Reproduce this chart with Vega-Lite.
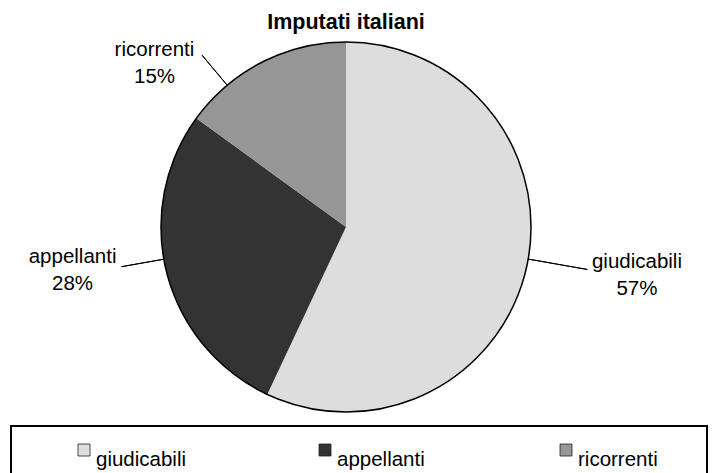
{
  "$schema": "https://vega.github.io/schema/vega-lite/v6.json",
  "background": "white",
  "padding": {"left": 10, "top": 11, "right": 0, "bottom": 0},
  "config": {"font": "Liberation Sans", "view": {"stroke": null}},
  "datasets": {
    "imputati": [
      {"category": "giudicabili", "share": 0.57},
      {"category": "appellanti", "share": 0.28},
      {"category": "ricorrenti", "share": 0.15}
    ]
  },
  "spacing": 5,
  "vconcat": [
    {
      "title": {"text": "Imputati italiani", "fontSize": 21.5, "fontWeight": "bold", "color": "black", "offset": 1, "frame": "group", "anchor": "middle"},
      "width": 670,
      "height": 386,
      "data": {"name": "imputati"},
      "layer": [
        {
          "mark": {"type": "arc", "outerRadius": 185},
          "encoding": {
            "theta": {"field": "share", "type": "quantitative", "stack": true},
            "order": {"field": "share", "sort": "descending"},
            "color": {"field": "category", "type": "nominal", "scale": {"domain": ["giudicabili", "appellanti", "ricorrenti"], "range": ["#DDDDDD", "#333333", "#969696"]}, "legend": null}
          }
        },
        {
          "mark": {"type": "arc", "outerRadius": 185, "filled": false, "stroke": "black", "strokeWidth": 1.5},
          "encoding": {"theta": {"aggregate": "sum", "field": "share", "type": "quantitative"}}
        },
        {
          "transform": [
            {"stack": "share", "groupby": [], "sort": [{"field": "share", "order": "descending"}], "as": ["s", "e"]},
            {"filter": {"field": "category", "equal": "giudicabili"}}
          ],
          "mark": {"type": "arc", "innerRadius": 185, "outerRadius": 245, "thetaOffset": 1.745, "theta2Offset": 1.745, "filled": false, "stroke": "black", "strokeWidth": 1},
          "encoding": {"theta": {"field": "s", "type": "quantitative", "stack": null}, "theta2": {"field": "s"}}
        },
        {
          "transform": [
            {"stack": "share", "groupby": [], "sort": [{"field": "share", "order": "descending"}], "as": ["s", "e"]},
            {"filter": {"field": "category", "equal": "appellanti"}}
          ],
          "mark": {"type": "arc", "innerRadius": 185, "outerRadius": 228, "thetaOffset": 0.956, "theta2Offset": 0.956, "filled": false, "stroke": "black", "strokeWidth": 1},
          "encoding": {"theta": {"field": "s", "type": "quantitative", "stack": null}, "theta2": {"field": "s"}}
        },
        {
          "transform": [
            {"stack": "share", "groupby": [], "sort": [{"field": "share", "order": "descending"}], "as": ["s", "e"]},
            {"filter": {"field": "category", "equal": "ricorrenti"}}
          ],
          "mark": {"type": "arc", "innerRadius": 185, "outerRadius": 224, "thetaOffset": 0.245, "theta2Offset": 0.245, "filled": false, "stroke": "black", "strokeWidth": 1},
          "encoding": {"theta": {"field": "s", "type": "quantitative", "stack": null}, "theta2": {"field": "s"}}
        },
        {
          "mark": {"type": "text", "radius": {"expr": "datum.category === 'giudicabili' ? 293 : 0"}, "dx": 5, "dy": -23, "align": "center", "baseline": "alphabetic", "fontSize": 20.5, "lineHeight": 27, "color": "black",
                   "text": {"expr": "datum.category === 'giudicabili' ? [datum.category, format(datum.share, '.0%')] : ''"}},
          "encoding": {
            "theta": {"field": "share", "type": "quantitative", "stack": true},
            "order": {"field": "share", "sort": "descending"},
            "detail": {"field": "category", "type": "nominal"}
          }
        },
        {
          "mark": {"type": "text", "radius": {"expr": "datum.category === 'appellanti' ? 273 : 0"}, "dx": -9, "dy": -32, "align": "center", "baseline": "alphabetic", "fontSize": 20.5, "lineHeight": 27, "color": "black",
                   "text": {"expr": "datum.category === 'appellanti' ? [datum.category, format(datum.share, '.0%')] : ''"}},
          "encoding": {
            "theta": {"field": "share", "type": "quantitative", "stack": true},
            "order": {"field": "share", "sort": "descending"},
            "detail": {"field": "category", "type": "nominal"}
          }
        },
        {
          "mark": {"type": "text", "radius": {"expr": "datum.category === 'ricorrenti' ? 239 : 0"}, "dx": -83, "dy": 42, "align": "center", "baseline": "alphabetic", "fontSize": 20.5, "lineHeight": 27, "color": "black",
                   "text": {"expr": "datum.category === 'ricorrenti' ? [datum.category, format(datum.share, '.0%')] : ''"}},
          "encoding": {
            "theta": {"field": "share", "type": "quantitative", "stack": true},
            "order": {"field": "share", "sort": "descending"},
            "detail": {"field": "category", "type": "nominal"}
          }
        }
      ]
    },
    {
      "width": 696,
      "height": 48,
      "view": {"stroke": "black", "strokeWidth": 2, "fill": "white"},
      "data": {"name": "imputati"},
      "encoding": {
        "x": {"field": "category", "type": "nominal", "scale": {"type": "band", "domain": ["giudicabili", "appellanti", "ricorrenti"], "paddingInner": 0, "paddingOuter": 0, "rangeMax": 723}, "axis": null}
      },
      "layer": [
        {
          "mark": {"type": "point", "shape": "square", "size": 144, "filled": true, "opacity": 1, "stroke": "#222222", "strokeWidth": 0.8, "xOffset": -47.5},
          "encoding": {"color": {"field": "category", "type": "nominal", "legend": null}}
        },
        {
          "mark": {"type": "text", "align": "left", "baseline": "alphabetic", "dx": -35.5, "dy": 16, "fontSize": 20.5, "color": "black"},
          "encoding": {"text": {"field": "category", "type": "nominal"}}
        }
      ]
    }
  ]
}
